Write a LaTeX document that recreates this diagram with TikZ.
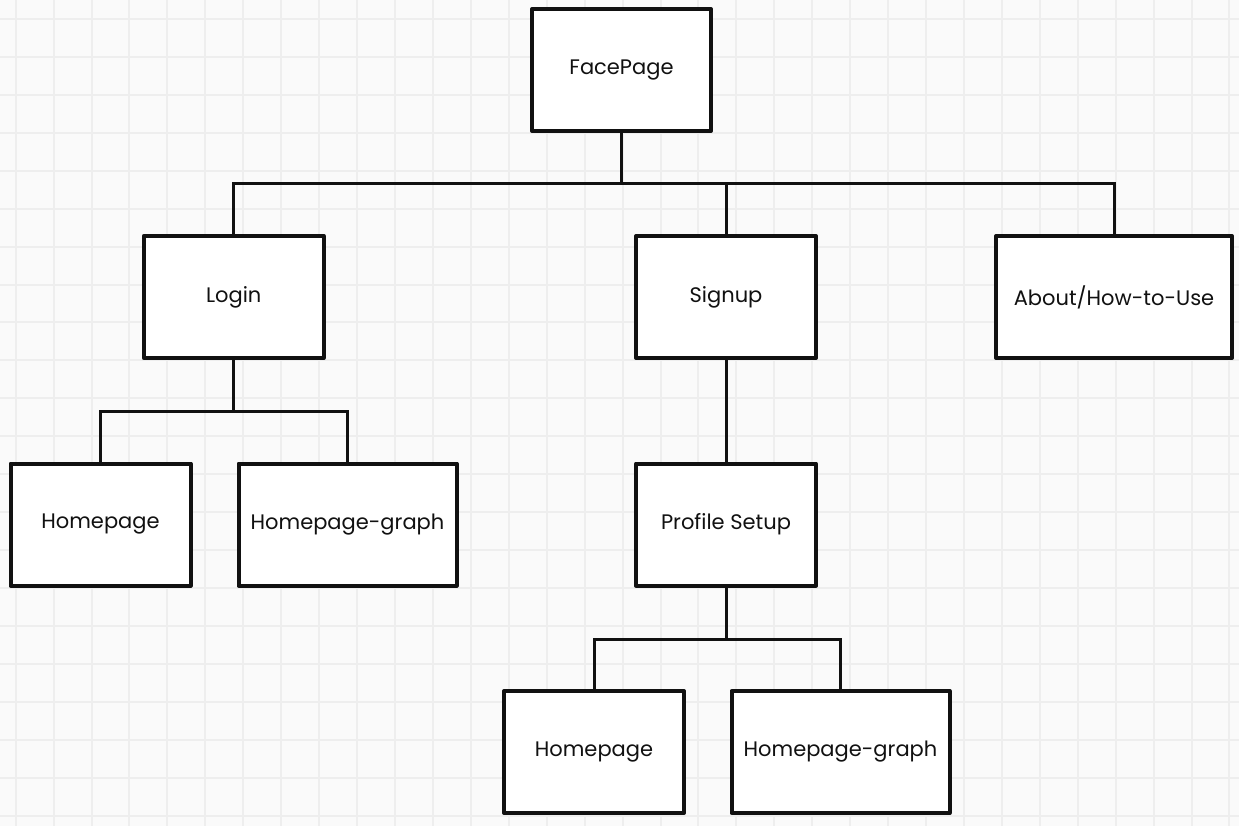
\documentclass[tikz,border=0pt]{standalone}
\usepackage{fontspec}
\setmainfont{Poppins}
\definecolor{bg}{HTML}{FAFAFA}
\definecolor{gridc}{HTML}{EEEEEE}
\definecolor{ink}{HTML}{111111}
\begin{document}
\begin{tikzpicture}[x=1pt,y=-1pt,
  box/.style={draw=ink, line width=4pt, fill=white, minimum width=180pt, minimum height=122pt,
    inner sep=0pt, font=\fontsize{21}{25}\selectfont, text=ink, line join=round},
  wide/.style={minimum width=218pt},
  link/.style={draw=ink, line width=3pt}]
\useasboundingbox (0,0) rectangle (1239,826);
\fill[bg] (0,0) rectangle (1239,826);
\foreach \i in {0,...,32} {\draw[gridc, line width=2pt] ({15.7+37.93*\i},0) -- ({15.7+37.93*\i},826);}
\foreach \j in {0,...,21} {\draw[gridc, line width=2pt] (0,{19+37.93*\j}) -- (1239,{19+37.93*\j});}
% nodes
\node[box, minimum width=179pt] (face) at (621.5,70) {FacePage};
\node[box] (login) at (233.7,297) {Login};
\node[box] (signup) at (726,297) {Signup};
\node[box, minimum width=236pt] (about) at (1114,297) {About/How-to-Use};
\node[box] (hp1) at (100.5,524.5) {Homepage};
\node[box, wide] (hpg1) at (347.5,524.5) {Homepage-graph};
\node[box] (profile) at (726,524.5) {Profile Setup};
\node[box] (hp2) at (594,752) {Homepage};
\node[box, wide] (hpg2) at (840.5,752) {Homepage-graph};
% junctions
\coordinate (j1) at (621.5,184);
\coordinate (j2) at (233.7,411);
\coordinate (j3) at (726,639);
% connectors
\draw[link] (face.south) -- (j1);
\draw[link] (login.north) |- (j1) -| (about.north);
\draw[link] (signup.north) -- (signup.north |- j1);
\draw[link] (login.south) -- (j2);
\draw[link] (hp1.north) |- (j2) -| (hpg1.north);
\draw[link] (signup.south) -- (profile.north);
\draw[link] (profile.south) -- (j3);
\draw[link] (hp2.north) |- (j3) -| (hpg2.north);
\end{tikzpicture}
\end{document}
